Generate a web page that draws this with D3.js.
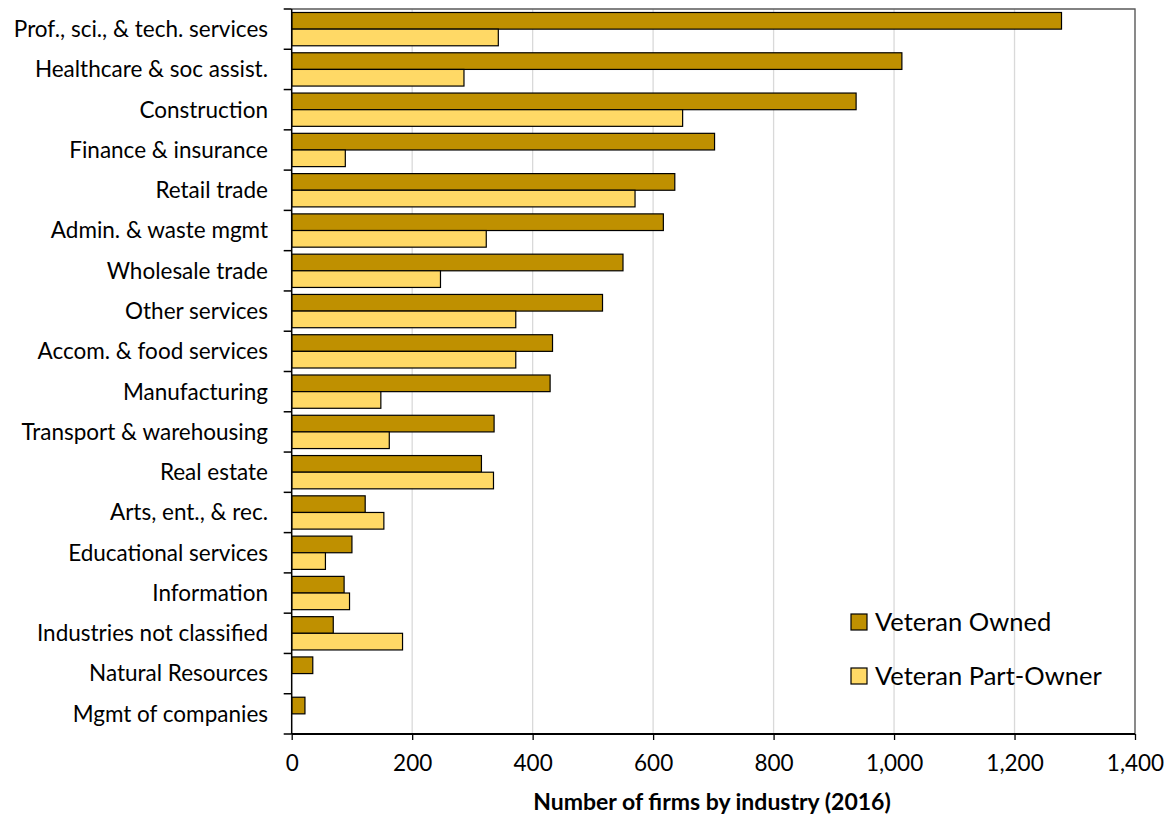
<!DOCTYPE html>
<html>
<head>
<meta charset="utf-8">
<script src="https://cdn.jsdelivr.net/npm/d3@7"></script>
<style>
  html, body { margin: 0; padding: 0; background: #fff; }
  svg { display: block; font-family: Lato, "Open Sans", sans-serif; }
</style>
</head>
<body>
<div id="chart"></div>
<script>
const industries = [
    "Prof., sci., & tech. services", "Healthcare & soc assist.", "Construction",
    "Finance & insurance", "Retail trade", "Admin. & waste mgmt", "Wholesale trade",
    "Other services", "Accom. & food services", "Manufacturing",
    "Transport & warehousing", "Real estate", "Arts, ent., & rec.",
    "Educational services", "Information", "Industries not classified",
    "Natural Resources", "Mgmt of companies"
];
const seriesNames = ["Veteran Owned", "Veteran Part-Owner"];
const veteranOwned = [1278, 1013, 937, 702, 636, 617, 550, 516, 433, 429, 336, 315, 122, 100, 87, 69, 35, 22];
const veteranPartOwner = [343, 286, 649, 89, 570, 323, 247, 372, 372, 148, 162, 335, 153, 56, 96, 184, 0, 0];
const xTicks = [0, 200, 400, 600, 800, 1000, 1200, 1400];
const colors = ["#BF9000", "#FFD966"];

const width = 1167;
const height = 814;
const margin = { top: 9, right: 32, bottom: 80, left: 291.7 };

const svg = d3.select('#chart')
    .append('svg')
    .attr('width', width)
    .attr('height', height);

const x = d3.scaleLinear()
    .domain([0, 1400])
    .range([margin.left, width - margin.right]);

const y = d3.scaleBand()
    .domain(industries)
    .range([margin.top, height - margin.bottom]);

const ySub = d3.scaleBand()
    .domain(seriesNames)
    .range([0, y.bandwidth()])
    .paddingOuter(0.21);

const rows = industries.map((name, i) => ({
    name,
    values: [veteranOwned[i], veteranPartOwner[i]]
}));

// gridlines
svg.append("g")
    .selectAll("line")
    .data(xTicks.slice(1))
    .join("line")
    .attr("x1", d => x(d)).attr("x2", d => x(d))
    .attr("y1", margin.top).attr("y2", height - margin.bottom)
    .attr("stroke", "#d9d9d9")
    .attr("stroke-width", 1.3);

// plot frame top / right
svg.append("path")
    .attr("d", `M${x(0)},${margin.top}H${x(1400)}V${height - margin.bottom}`)
    .attr("fill", "none")
    .attr("stroke", "#595959")
    .attr("stroke-width", 1.3);

// bars
svg.append("g")
    .selectAll("g")
    .data(rows)
    .join("g")
    .attr("transform", d => `translate(0,${y(d.name)})`)
    .selectAll("rect")
    .data(d => d.values.map((v, i) => ({ key: seriesNames[i], value: v, i })))
    .join("rect")
    .filter(d => d.value > 0)
    .attr("x", x(0))
    .attr("y", d => ySub(d.key))
    .attr("width", d => x(d.value) - x(0))
    .attr("height", ySub.bandwidth())
    .attr("fill", d => colors[d.i])
    .attr("stroke", "#000")
    .attr("stroke-width", 1.2);

// y axis: ticks on band boundaries
const yAxis = svg.append("g");
yAxis.append("line")
    .attr("x1", x(0)).attr("x2", x(0))
    .attr("y1", margin.top).attr("y2", height - margin.bottom)
    .attr("stroke", "#000").attr("stroke-width", 1.5);
yAxis.selectAll(".tk")
    .data(industries.map(d => y(d)).concat([height - margin.bottom]))
    .join("line")
    .attr("class", "tk")
    .attr("x1", x(0) - 8).attr("x2", x(0))
    .attr("y1", d => d).attr("y2", d => d)
    .attr("stroke", "#000").attr("stroke-width", 1.5);
yAxis.selectAll("text")
    .data(industries)
    .join("text")
    .attr("x", 268)
    .attr("y", d => y(d) + y.bandwidth() / 2)
    .attr("dy", "0.35em")
    .attr("text-anchor", "end")
    .attr("font-size", "22.5px")
    .attr("fill", "#000")
    .text(d => d);

// x axis
const xAxis = svg.append("g")
    .attr("transform", `translate(0,${height - margin.bottom})`)
    .call(d3.axisBottom(x).tickValues(xTicks).tickSize(6).tickPadding(15).tickFormat(d3.format(",")));
xAxis.select(".domain").attr("stroke-width", 1.8).attr("d", `M${x(0)},0H${x(1400)}`);
xAxis.selectAll(".tick line").attr("stroke-width", 1.3);
xAxis.selectAll("text")
    .attr("font-size", "22.5px")
    .attr("font-family", "Lato, 'Open Sans', sans-serif")
    .attr("fill", "#000");

svg.append("text")
    .attr("x", 712)
    .attr("y", 810)
    .attr("text-anchor", "middle")
    .attr("font-size", "23px")
    .attr("font-weight", "bold")
    .text("Number of firms by industry (2016)");

// legend
const legend = svg.append("g")
    .selectAll("g")
    .data(seriesNames)
    .join("g")
    .attr("transform", (d, i) => `translate(851,${614 + i * 54})`);
legend.append("rect")
    .attr("width", 16).attr("height", 16)
    .attr("fill", (d, i) => colors[i])
    .attr("stroke", "#000").attr("stroke-width", 1.2);
legend.append("text")
    .attr("x", 24)
    .attr("y", 8)
    .attr("dy", "0.35em")
    .attr("font-size", "25.5px")
    .text(d => d);
</script>
</body>
</html>
